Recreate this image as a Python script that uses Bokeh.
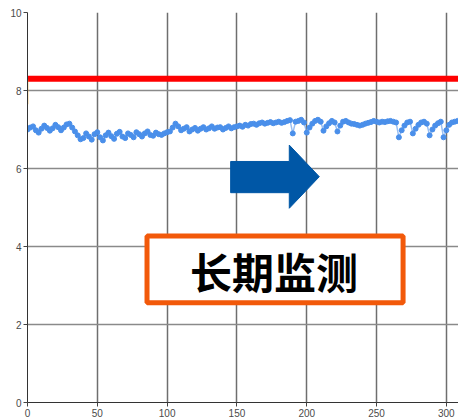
from bokeh.plotting import figure
from bokeh.models import Range1d, FixedTicker
from bokeh.core.properties import value
from bokeh.embed import file_html
from bokeh.resources import INLINE

# measured series (one point every 2 units of x)
values = [
    7.00, 7.05, 7.08, 6.98, 6.92, 7.02, 7.10, 7.04, 6.97, 7.03, 7.12, 7.06, 6.98, 7.05, 7.13, 7.15, 7.05, 6.95,
    6.85, 6.75, 6.78, 6.90, 6.82, 6.74, 6.88, 6.93, 6.80, 6.72, 6.85, 6.92, 6.83, 6.76, 6.89, 6.94, 6.82, 6.78,
    6.90, 6.86, 6.80, 6.93, 6.88, 6.82, 6.90, 6.95, 6.86, 6.84, 6.92, 6.88, 6.86, 6.90, 6.93,
    6.95, 7.05, 7.15, 7.08, 6.98, 7.02, 7.06, 6.95, 7.00, 7.04, 6.97, 7.02, 7.06, 7.00, 7.03, 7.08, 7.02, 7.05,
    7.06, 7.00, 7.04, 7.08, 7.03, 7.06,
    7.08, 7.10, 7.07, 7.12, 7.10, 7.14, 7.15, 7.12, 7.16, 7.18, 7.15, 7.17, 7.19, 7.16, 7.18, 7.20, 7.17, 7.19,
    7.22, 7.24,
    6.90, 7.20, 7.22, 7.25, 7.18, 6.92, 7.05, 7.15, 7.22, 7.25, 7.20, 6.97, 7.08, 7.16, 7.22, 7.18,
    6.95, 7.10, 7.20, 7.22, 7.18, 7.15, 7.14, 7.12, 7.10, 7.12, 7.15, 7.17, 7.19, 7.22, 7.20, 7.18, 7.20, 7.19,
    7.21, 7.22, 7.20, 7.18,
    6.80, 6.98, 7.10, 7.18, 7.20, 6.90, 7.02, 7.12, 7.18, 7.20, 7.15, 6.85, 7.00, 7.10, 7.16, 7.20, 6.80, 6.98,
    7.12, 7.18, 7.20, 7.22,
]
x_vals = list(range(0, 2 * len(values), 2))

limit_x = [0, 320]
limit_y = [8.3, 8.3]

start_x = [0, 0]
start_y = [8.28, 7.65]

x_ticks = [0, 50, 100, 150, 200, 250, 300]
y_ticks = [0, 2, 4, 6, 8, 10]

arrow_x = [145.5, 187.5, 187.5, 209.0, 187.5, 187.5, 145.5]
arrow_y = [6.18, 6.18, 6.60, 5.79, 4.98, 5.38, 5.38]

box_left, box_right, box_bottom, box_top = [85.6], [269.0], [2.56], [4.27]

label_text = ["长期监测"]
label_x = [176.6]
label_y = [3.38]

p = figure(width=458, height=420, output_backend="svg", toolbar_location=None,
           x_range=Range1d(0, 308.7), y_range=Range1d(0, 10),
           min_border_left=27, min_border_right=0, min_border_top=12, min_border_bottom=18)
p.outline_line_color = None
p.background_fill_color = "white"

for ax in (p.xaxis[0], p.yaxis[0]):
    ax.major_label_text_font = "Liberation Sans"
    ax.major_label_text_font_size = "10px"
    ax.major_label_text_color = "#4a4a4a"
    ax.major_tick_in = 0
    ax.major_tick_out = 4
    ax.minor_tick_out = 0
    ax.minor_tick_in = 0
    ax.major_label_standoff = 2
    ax.axis_line_color = "#333333"
    ax.major_tick_line_color = "#444444"
p.xaxis.ticker = FixedTicker(ticks=x_ticks)
p.yaxis.ticker = FixedTicker(ticks=y_ticks)
p.xgrid.ticker = FixedTicker(ticks=x_ticks)
p.ygrid.ticker = FixedTicker(ticks=y_ticks)
p.xgrid.grid_line_color = "#6e6e6e"
p.ygrid.grid_line_color = "#8a8a8a"
p.xgrid.grid_line_width = 1.5
p.ygrid.grid_line_width = 1.5

p.line(limit_x, limit_y, line_color="#ff0000", line_width=6)
p.line(start_x, start_y, line_color="#f5a623", line_width=1.5)
p.line(x_vals, values, line_color="#7eaef0", line_width=1.5, line_alpha=0.8)
p.scatter(x_vals, values, size=5, fill_color="#4a8fea", line_color="#4a8fea")

p.patch(arrow_x, arrow_y, fill_color="#0057a6", line_color="#0057a6", line_width=1)

p.quad(left=box_left, right=box_right, bottom=box_bottom, top=box_top,
       fill_color="white", line_color="#f2590a", line_width=5)

p.text(label_x, label_y, text=label_text, text_font=value("Noto Sans CJK SC"),
       text_font_style="bold", text_font_size="42px", text_color="black",
       text_align="center", text_baseline="middle")

open("out.html", "w").write(file_html(p, INLINE))
